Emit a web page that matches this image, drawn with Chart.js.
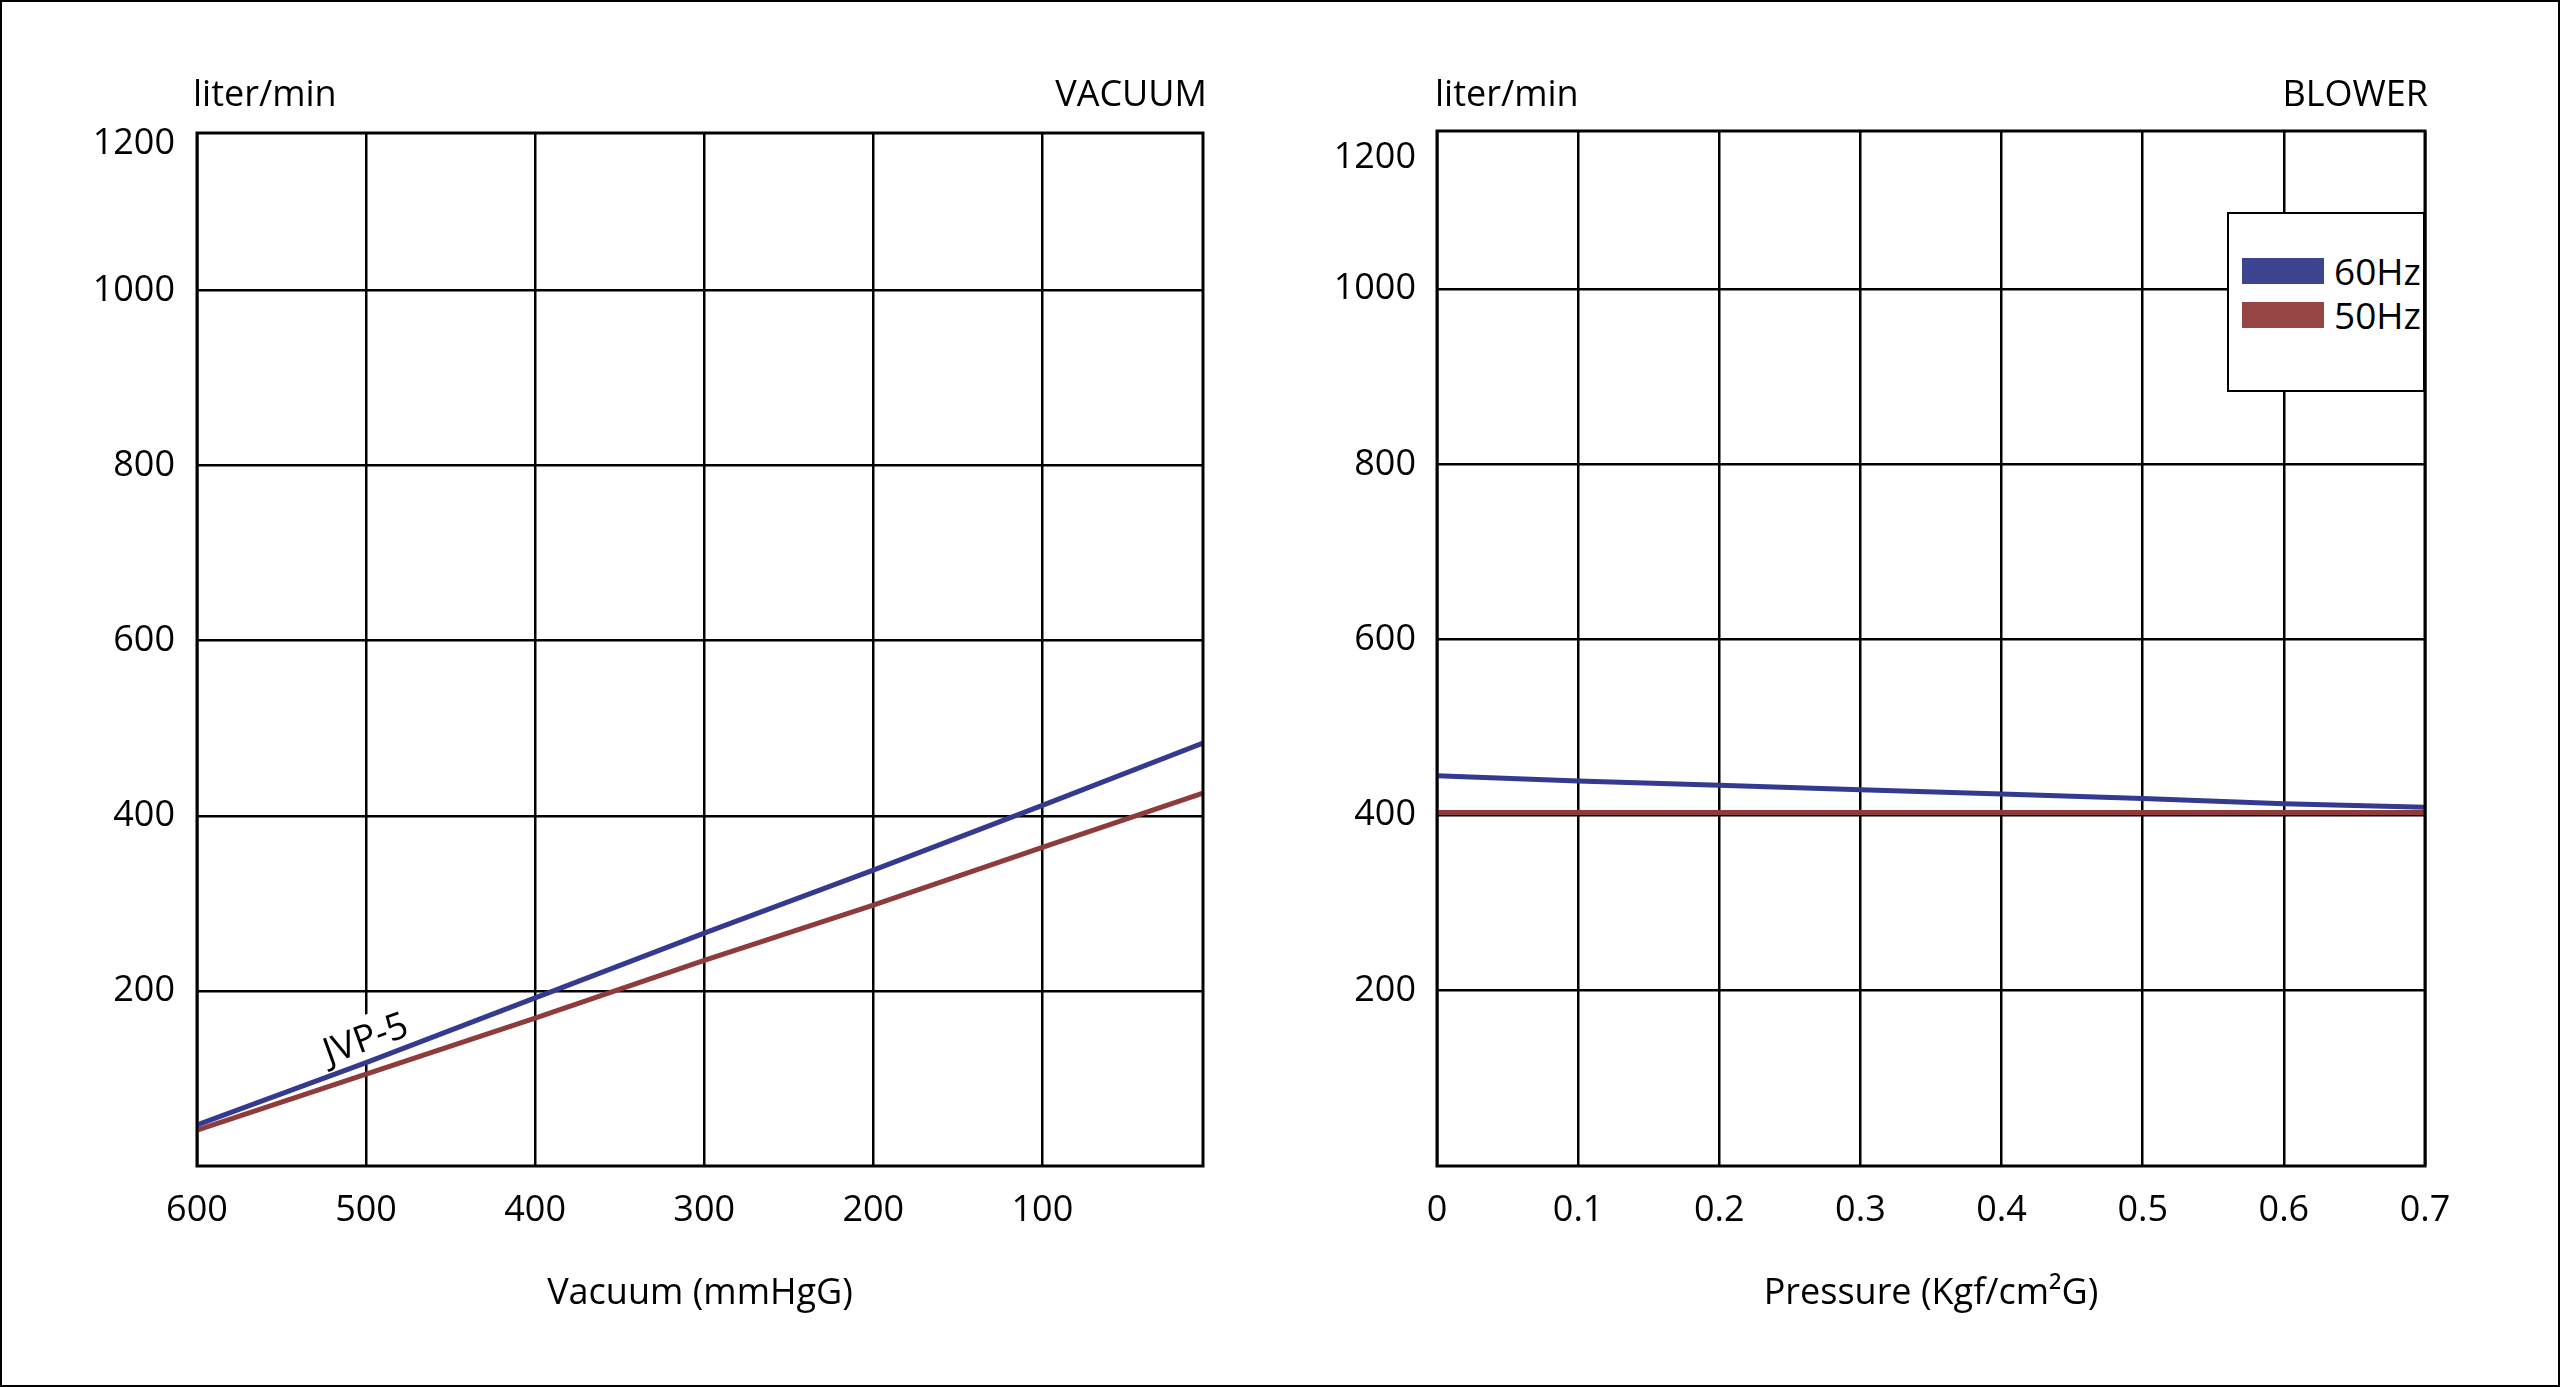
<!DOCTYPE html>
<html>
<head>
<meta charset="utf-8">
<title>JVP-5 vacuum / blower curves</title>
<script src="https://cdn.jsdelivr.net/npm/chart.js@4.4.1/dist/chart.umd.min.js"></script>
<style>
    html, body { margin: 0; padding: 0; background: #fff; }
    #page { position: relative; width: 2560px; height: 1387px; overflow: hidden; font-family: "Open Sans", sans-serif; color: #000; }
    #frame { position: absolute; left: 0; top: 0; width: 2560px; height: 1387px; box-sizing: border-box; border: 2px solid #000; pointer-events: none; }
    canvas { position: absolute; top: 0; }
    .label { position: absolute; font-size: 36px; line-height: 36px; white-space: nowrap; }
    #customLegend { position: absolute; left: 2227px; top: 212px; width: 198px; height: 180px; box-sizing: border-box; border: 2px solid #000; background: #fff; padding: 35px 0 0 13px; }
</style>
</head>
<body>
<div id="page">
    <canvas id="vacuumChart" width="1280" height="1387" style="left:0"></canvas>
    <canvas id="blowerChart" width="1280" height="1387" style="left:1280px"></canvas>

    <div class="label" style="left:193px; top:75px">liter/min</div>
    <div class="label" style="right:1353px; top:75px">VACUUM</div>
    <div class="label" style="left:1435px; top:75px">liter/min</div>
    <div class="label" style="right:132px; top:75px">BLOWER</div>

    <div id="customLegend"></div>
    <div id="frame"></div>
</div>

<script>
// series
const seriesNames = ["60Hz", "50Hz"];
const lineColors = ["#333a8f", "#8f3b3b"];
const legendColors = ["#3d4591", "#964444"];

// VACUUM side (x axis runs 600 -> 0 mmHgG)
const vacuumX = [600, 500, 400, 300, 200, 100, 5];
const vacuum60 = [47, 118, 192, 266, 338, 412, 483];
const vacuum50 = [41, 105, 169, 235, 298, 364, 426];
const vacuumTicks = [600, 500, 400, 300, 200, 100];

// BLOWER side
const pressureX = [0, 0.1, 0.2, 0.3, 0.4, 0.5, 0.6, 0.7];
const blower60 = [445, 439, 434, 429, 424, 419, 413, 409];
const blower50 = [403, 403, 403, 403, 403, 403, 403, 403];
const pressureTicks = [0, 0.1, 0.2, 0.3, 0.4, 0.5, 0.6, 0.7];
const pressureTickLabels = ["0", "0.1", "0.2", "0.3", "0.4", "0.5", "0.6", "0.7"];

// flow axis; the "1200" label sits just under the top edge in the original,
// so its tick carries no grid line (the frame is the top edge)
const flowMax = 1180;
const flowTicks = [200, 400, 600, 800, 1000];
const flowTickLabels = ["200", "400", "600", "800", "1000", "1200"];
const vacuumTopLabelAt = 1168;
const blowerTopLabelAt = 1150;

Chart.defaults.font.family = "'Open Sans', sans-serif";
Chart.defaults.font.size = 36;
Chart.defaults.color = "#000";

// box round the plot area
const plotFrame = {
    id: "plotFrame",
    afterDatasetsDraw(chart) {
        const { ctx, chartArea: a } = chart;
        ctx.save();
        ctx.strokeStyle = "#000";
        ctx.lineWidth = 3;
        ctx.strokeRect(a.left, a.top, a.right - a.left, a.bottom - a.top);
        ctx.restore();
    }
};

// rotated model name on a white patch, under the curves
const curveLabel = {
    id: "curveLabel",
    beforeDatasetsDraw(chart, args, opts) {
        if (!opts || !opts.text) return;
        const ctx = chart.ctx;
        const x = chart.scales.x.getPixelForValue(opts.x);
        const y = chart.scales.y.getPixelForValue(opts.y);
        ctx.save();
        ctx.translate(x, y);
        ctx.rotate(opts.angle * Math.PI / 180);
        ctx.font = "37px 'Open Sans', sans-serif";
        const w = ctx.measureText(opts.text).width;
        ctx.fillStyle = "#fff";
        ctx.fillRect(-w / 2 - 8, -24, w + 16, 44);
        ctx.fillStyle = "#000";
        ctx.textAlign = "center";
        ctx.textBaseline = "middle";
        ctx.fillText(opts.text, 0, 0);
        ctx.restore();
    }
};

function buildDatasets(xs, ys60, ys50) {
    return [ys60, ys50].map((ys, i) => ({
        label: seriesNames[i],
        data: xs.map((x, j) => ({ x: x, y: ys[j] })),
        borderColor: lineColors[i],
        borderWidth: 5,
        pointRadius: 0,
        tension: 0,
        fill: false
    }));
}

function flowAxis(axisWidth, tickPad, topLabelAt) {
    const tickValues = flowTicks.concat([topLabelAt]);
    return {
        type: "linear",
        min: 0,
        max: flowMax,
        afterBuildTicks: (scale) => { scale.ticks = tickValues.map(v => ({ value: v })); },
        afterFit: (scale) => { scale.width = axisWidth; },
        ticks: {
            padding: tickPad,
            callback: (value, index) => flowTickLabels[index]
        },
        grid: {
            color: (c) => c.index === tickValues.length - 1 ? "rgba(0,0,0,0)" : "#000",
            lineWidth: 2.5,
            drawTicks: false
        },
        border: { display: false }
    };
}

function renderChart(canvasId, cfg) {
    const ctx = document.getElementById(canvasId).getContext("2d");
    return new Chart(ctx, {
        type: "line",
        data: { datasets: cfg.datasets },
        plugins: cfg.plugins,
        options: {
            responsive: false,
            animation: false,
            devicePixelRatio: 1,
            events: [],
            layout: { padding: { top: cfg.top, right: cfg.right, left: 0, bottom: 0 } },
            plugins: {
                legend: { display: false },
                tooltip: { enabled: false },
                curveLabel: cfg.curveLabel || {}
            },
            scales: {
                x: {
                    type: "linear",
                    reverse: cfg.reverse,
                    min: cfg.xMin,
                    max: cfg.xMax,
                    afterBuildTicks: (scale) => { scale.ticks = cfg.xTicks.map(v => ({ value: v })); },
                    afterFit: (scale) => { scale.height = 221; },
                    ticks: {
                        padding: 23,
                        maxRotation: 0,
                        autoSkip: false,
                        callback: (value, index) => cfg.xTickLabels[index]
                    },
                    grid: { color: "#000", lineWidth: 2.5, drawTicks: false },
                    border: { display: false },
                    title: {
                        display: true,
                        text: cfg.xTitle,
                        padding: { top: 0, bottom: 72 }
                    }
                },
                y: flowAxis(cfg.yAxisWidth, cfg.yTickPad, cfg.topLabelAt)
            }
        }
    });
}

const vacuumChartInstance = renderChart("vacuumChart", {
    datasets: buildDatasets(vacuumX, vacuum60, vacuum50),
    plugins: [curveLabel, plotFrame],
    curveLabel: { text: "JVP-5", x: 500, y: 144, angle: -20 },
    top: 133,
    right: 77,
    reverse: true,
    xMin: 5,
    xMax: 600,
    xTicks: vacuumTicks,
    xTickLabels: vacuumTicks.map(String),
    xTitle: "Vacuum (mmHgG)",
    yAxisWidth: 197,
    yTickPad: 22,
    topLabelAt: vacuumTopLabelAt
});

const blowerChartInstance = renderChart("blowerChart", {
    datasets: buildDatasets(pressureX, blower60, blower50),
    plugins: [plotFrame],
    top: 131,
    right: 135,
    reverse: false,
    xMin: 0,
    xMax: 0.7,
    xTicks: pressureTicks,
    xTickLabels: pressureTickLabels,
    xTitle: "Pressure (Kgf/cm²G)",
    yAxisWidth: 157,
    yTickPad: 21,
    topLabelAt: blowerTopLabelAt
});

function renderCustomLegend(labels, colors) {
    const container = document.getElementById("customLegend");
    container.innerHTML = "";

    labels.forEach((label, i) => {
        const item = document.createElement("div");
        item.style.display = "flex";
        item.style.alignItems = "center";
        item.style.height = "44px";

        const box = document.createElement("div");
        box.style.width = "82px";
        box.style.height = "26px";
        box.style.backgroundColor = colors[i];
        box.style.marginRight = "10px";

        const text = document.createElement("span");
        text.textContent = label;
        text.style.fontSize = "37px";
        text.style.lineHeight = "44px";

        item.appendChild(box);
        item.appendChild(text);
        container.appendChild(item);
    });
}

renderCustomLegend(seriesNames, legendColors);
</script>
</body>
</html>
